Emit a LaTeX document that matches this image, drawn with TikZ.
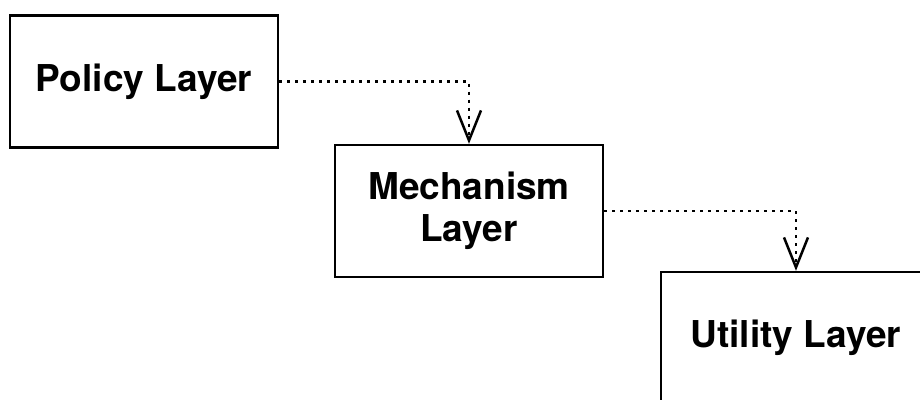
\documentclass[tikz,border=0pt]{standalone}
\usepackage{fontspec}
\setmainfont{TeX Gyre Heros}
\usepackage{tikz}
\usetikzlibrary{arrows.meta,positioning}
\tikzset{
  layer/.style={draw=black,line width=2.4pt,align=center,minimum width=268pt,minimum height=132pt,font=\fontsize{37}{42}\selectfont\bfseries},
  arr/.style={-{Straight Barb[length=30pt,width=24pt,line width=2.5pt]},line width=2.2pt,dash pattern=on 3pt off 5pt,draw=black}
}
\begin{document}
\begin{tikzpicture}[x=1pt,y=1pt]
        \useasboundingbox (0,0) rectangle (920,399);
        \clip (0,0) rectangle (920,399);
        \node[layer] (policy) at (144,317.5) {Policy Layer};
        \node[layer] (mech) at (469,188) {Mechanism\\Layer};
        \node[layer,minimum width=270pt] (util) at (796,61) {Utility Layer};
        \draw[arr] (policy.east) -| (mech.north);
        \draw[arr] (mech.east) -| (util.north);
      \end{tikzpicture}
\end{document}
